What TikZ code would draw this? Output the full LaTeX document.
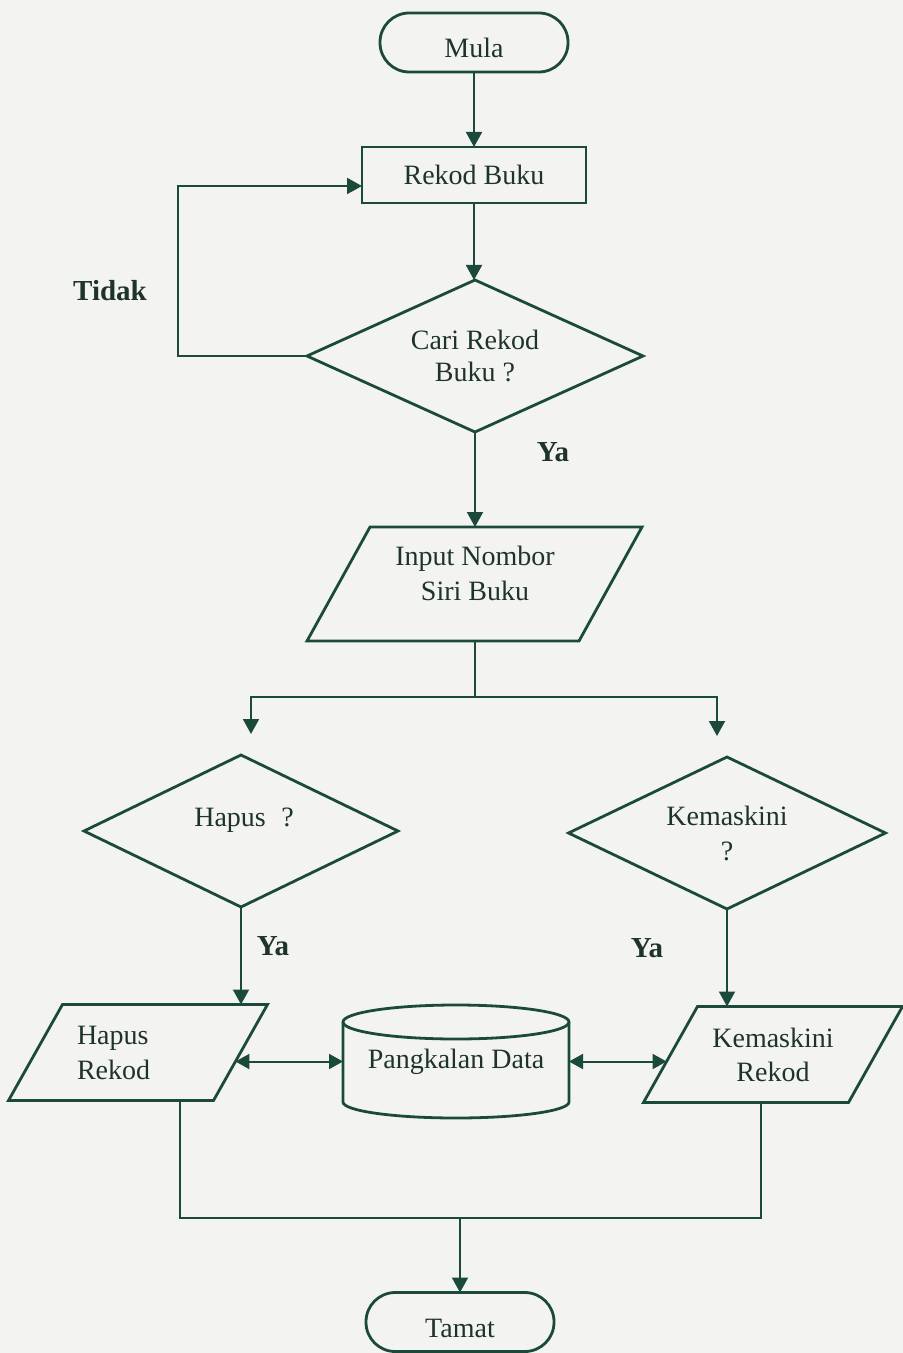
\documentclass[tikz,border=0pt]{standalone}
\usepackage{fontspec}
\setmainfont{Liberation Serif}
\usetikzlibrary{shapes.geometric,arrows.meta,calc}
\definecolor{inkline}{RGB}{28,74,58}
\definecolor{inktext}{RGB}{30,52,42}
\definecolor{paper}{RGB}{243,244,241}
\begin{document}
\begin{tikzpicture}[x=0.5pt,y=-0.5pt,
  every node/.style={text=inktext, font=\fontsize{14}{16}\selectfont, inner sep=0pt, outer sep=0pt},
  shapeline/.style={draw=inkline, line width=1.4pt},
  terminal/.style={shapeline, rectangle, rounded corners=14.6pt, minimum width=94pt, minimum height=29.5pt, text height=15.5pt, text depth=0pt},
  procbox/.style={shapeline, rectangle, minimum width=112pt, minimum height=28pt},
  decision/.style={shapeline, diamond, aspect=2.2, minimum height=76pt, align=center},
  ioframe/.style={rectangle, minimum width=129.5pt, minimum height=48pt},
  flag/.style={font=\fontsize{14.5}{17}\selectfont\bfseries},
  plain/.style={draw=inkline, line width=1.0pt},
  conn/.style={plain, -{Triangle[length=7.5pt,width=8pt]}},
  dbl/.style={plain, {Triangle[length=7pt,width=7.5pt]}-{Triangle[length=7pt,width=7.5pt]}}
]
\fill[paper] (0,0) rectangle (903,1353);
\useasboundingbox (0,0) rectangle (903,1353);

% start, record box and the search decision
\node[terminal] (mula) at (474,42.5) {Mula};
\node[procbox] (rekod) at (474,175) {Rekod Buku};
\node[decision, minimum width=168pt, font=\fontsize{14}{16}\selectfont] (cari) at (475,356) {Cari Rekod\\Buku ?};

% serial number input (parallelogram drawn on the node frame)
\node[rectangle, minimum width=167.5pt, minimum height=57pt] (input) at (474.5,584) {};
\draw[shapeline] (input.south west) -- ([xshift=31.5pt]input.north west)
  -- (input.north east) -- ([xshift=-31.5pt]input.south east) -- cycle;
\node[align=center, font=\fontsize{14}{17.5}\selectfont] (inputtext) at (475,573) {Input Nombor\\Siri Buku};

% the two decisions
\node[decision, minimum width=157pt] (hapus) at (241,831) {};
\node (hapustext) at (244,820) {Hapus\hspace{0.55em}?};
\node[decision, minimum width=158.5pt, font=\fontsize{14}{17.5}\selectfont] (kemas) at (727,833) {Kemaskini\\?};

% delete / update records
\node[ioframe, text width=61pt, align=left, font=\fontsize{14}{17.5}\selectfont] (hrekod) at (138,1052.5) {Hapus\\Rekod};
\draw[shapeline] (hrekod.south west) -- ([xshift=27pt]hrekod.north west)
  -- (hrekod.north east) -- ([xshift=-27pt]hrekod.south east) -- cycle;
\node[ioframe, align=center, font=\fontsize{14}{17}\selectfont] (krekod) at (773,1054.5) {Kemaskini\\Rekod};
\draw[shapeline] (krekod.south west) -- ([xshift=27pt]krekod.north west)
  -- (krekod.north east) -- ([xshift=-27pt]krekod.south east) -- cycle;

% database cylinder
\node[minimum width=113pt, minimum height=56.5pt] (db) at (456,1061.5) {Pangkalan Data};
\draw[shapeline] ([yshift=-8.5pt]db.north) ellipse [x radius=56.5pt, y radius=8.5pt];
\draw[shapeline] ([yshift=-8.5pt]db.north west) -- ([yshift=8pt]db.south west)
  arc[start angle=180, end angle=360, x radius=56.5pt, y radius=8pt]
  -- ([yshift=-8.5pt]db.north east);

\node[terminal] (tamat) at (460,1322) {Tamat};

% branch labels
\node[flag] (tidak) at (110,291) {Tidak};
\node[flag] (ya1) at (553,452) {Ya};
\node[flag] (ya2) at (273,946) {Ya};
\node[flag] (ya3) at (647,948) {Ya};

% connectors
\draw[conn] (mula) -- (rekod);
\draw[conn] (rekod.south) -- (rekod.south |- cari.north);
\draw[conn] (cari.west) -- ++(-129,0) |- ([yshift=-5.5pt]rekod.west);
\draw[conn] (cari.south) -- (cari.south |- input.north);

\coordinate (split) at (474.5,697);
\coordinate (toHapus) at (251,734);
\coordinate (toKemas) at (717,736);
\draw[plain] (input.south) -- (split);
\draw[conn] (split) -| (toHapus);
\draw[conn] (split) -| (toKemas);

\draw[conn] (hapus.south) -- (hapus.south |- hrekod.north);
\draw[conn] (kemas.south) -- (kemas.south |- krekod.north);

% points where the data arrows meet the slanted sides
\coordinate (hedge) at ($(hrekod.north east)!0.594!([xshift=-27pt]hrekod.south east)$);
\coordinate (kedge) at ($([xshift=27pt]krekod.north west)!0.573!(krekod.south west)$);
\draw[dbl] (hedge |- db.west) -- (db.west);
\draw[dbl] (db.east) -- (kedge |- db.east);

\coordinate (merge) at (460,1218);
\draw[plain] ([xshift=21pt]hrekod.south) |- (merge);
\draw[plain] ([xshift=-6pt]krekod.south) |- (merge);
\draw[conn] (merge) -- (tamat);
\end{tikzpicture}
\end{document}
